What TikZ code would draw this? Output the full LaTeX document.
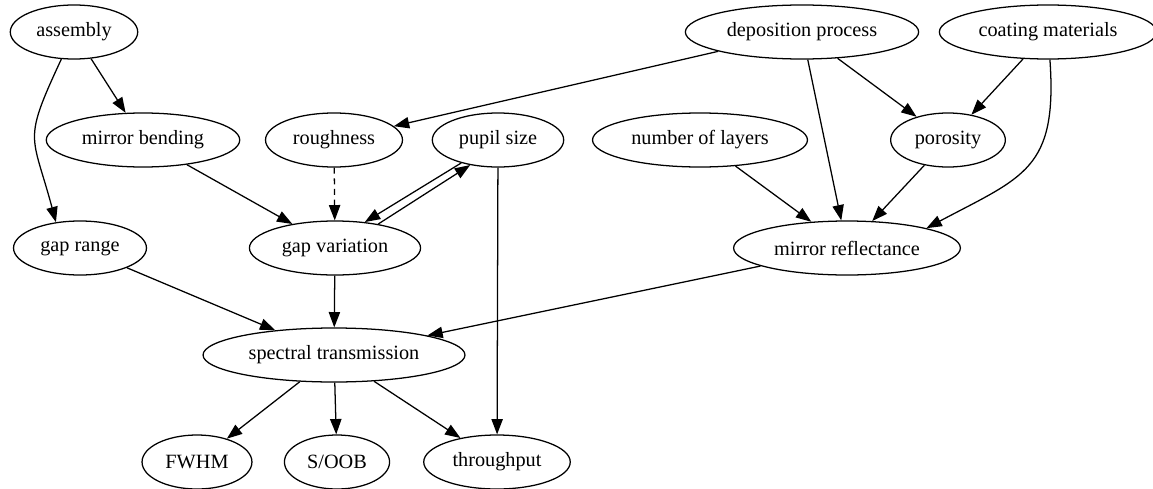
\documentclass[tikz,border=0pt]{standalone}
\usepackage{fontspec}
\setmainfont{Liberation Serif}
\usetikzlibrary{arrows.meta,shapes.geometric}

\begin{document}
\begin{tikzpicture}[x=0.75pt,y=-0.75pt,
    var/.style={draw,ellipse,line width=0.95pt,minimum height=40.5pt,inner xsep=5.5pt,inner ysep=2pt,font=\fontsize{15.2}{18}\selectfont},
    edge/.style={line width=0.95pt,-{Triangle[length=11.5pt,width=8.5pt]}}]
    \useasboundingbox (0,0) rectangle (1153,489);
    % Top row
    \node[var] (assembly) at (74,32) {assembly};
    \node[var] (deposition) at (802,32) {deposition process};
    \node[var] (coating) at (1048,32) {coating materials};
    % Second row
    \node[var] (bending) at (143,140) {mirror bending};
    \node[var] (roughness) at (334,140) {roughness};
    \node[var] (pupil) at (498,140) {pupil size};
    \node[var] (layers) at (700,140) {number of layers};
    \node[var] (porosity) at (948,140) {porosity};
    % Third row
    \node[var] (gaprange) at (80,248) {gap range};
    \node[var] (gapvar) at (335,248) {gap variation};
    \node[var] (reflectance) at (847,248) {mirror reflectance};
    % Fourth row
    \node[var] (spectral) at (334,355) {spectral transmission};
    % Bottom row
    \node[var] (fwhm) at (197,462) {FWHM};
    \node[var] (soob) at (337,462) {S/OOB};
    \node[var] (throughput) at (497,462) {throughput};
    % Edges from the top row
    \draw[edge] (assembly) to[out=245,in=105,looseness=1.45] (gaprange.133);
    \draw[edge] (assembly) -- (bending);
    \draw[edge] (deposition) -- (roughness);
    \draw[edge] (deposition) -- (reflectance);
    \draw[edge] (deposition) -- (porosity);
    \draw[edge] (coating) -- (porosity);
    \draw[edge] (coating) to[out=274,in=28,looseness=1.35] (reflectance.14);
    % Edges into gap variation and mirror reflectance
    \draw[edge] (bending) -- (gapvar);
    \draw[edge,dash pattern=on 4.5pt off 3.5pt] (roughness) -- (gapvar);
    \draw[edge] (pupil.212) -- (gapvar.41);
    \draw[edge] (gapvar.29) -- (pupil.222);
    \draw[edge] (layers) -- (reflectance);
    \draw[edge] (porosity) -- (reflectance);
    % Edges into spectral transmission
    \draw[edge] (gaprange) -- (spectral);
    \draw[edge] (gapvar) -- (spectral);
    \draw[edge] (reflectance) -- (spectral);
    % Edges to the bottom row
    \draw[edge] (spectral) -- (fwhm);
    \draw[edge] (spectral) -- (soob);
    \draw[edge] (spectral) -- (throughput);
    \draw[edge] (pupil) -- (throughput);
\end{tikzpicture}
\end{document}
